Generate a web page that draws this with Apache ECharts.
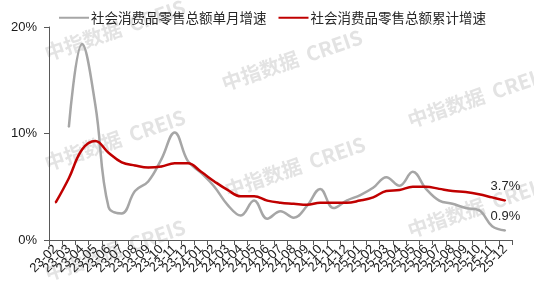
<!DOCTYPE html>
<html>
<head>
<meta charset="utf-8">
<script src="https://cdn.jsdelivr.net/npm/echarts@6/dist/echarts.min.js"></script>
<style>
html,body{margin:0;padding:0;background:#fff;}
#chart{width:534px;height:290px;}
</style>
</head>
<body>
<div id="chart"></div>
<script>
var categories = ['23-02','23-03','23-04','23-05','23-06','23-07','23-08','23-09','23-10','23-11','23-12',
  '24-01','24-02','24-03','24-04','24-05','24-06','24-07','24-08','24-09','24-10','24-11','24-12',
  '25-01','25-02','25-03','25-04','25-05','25-06','25-07','25-08','25-09','25-10','25-11','25-12'];
var monthlyName = '社会消费品零售总额单月增速';
var cumulativeName = '社会消费品零售总额累计增速';
var monthly = [null,10.6,18.4,12.7,3.1,2.5,4.6,5.5,7.6,10.1,7.4,
  6.3,5.0,3.3,2.3,3.7,2.0,2.7,2.1,3.2,4.8,3.0,3.7,
  4.2,4.9,5.9,5.1,6.4,4.8,3.7,3.4,3.0,2.8,1.3,0.9];
var cumulative = [3.5,5.8,8.5,9.3,8.2,7.3,7.0,6.8,6.9,7.2,7.2,
  6.4,5.5,4.7,4.1,4.1,3.7,3.5,3.4,3.3,3.5,3.5,3.5,
  3.7,4.0,4.6,4.7,5.0,5.0,4.8,4.6,4.5,4.3,4.0,3.7];
var yTicks = [0,10,20];
var watermark = '中指数据  CREIS';

function withEndLabel(arr){
  return arr.map(function(v,i){
    if(i===arr.length-1){
      return {value:v,label:{show:true,position:'top',distance:7,formatter:function(p){return Number(p.value).toFixed(1)+'%';},
        fontSize:13,color:'#262626',fontFamily:'"Liberation Sans", Arial, sans-serif'}};
    }
    return v;
  });
}

var wmPos = [[115,30],[115,140],[115,250],[292,60],[295,167],[478,97],[478,207]];
var graphics = wmPos.map(function(p){
  return {type:'text',x:p[0],y:p[1],rotation:0.33,z:-10,silent:true,
    style:{text:watermark,fill:'#e3e3e3',font:'bold 20px "Noto Sans CJK SC", "Liberation Sans", sans-serif',
      align:'center',verticalAlign:'middle'}};
});

var chart = echarts.init(document.getElementById('chart'),null,{renderer:'canvas'});
chart.setOption({
  animation:false,
  backgroundColor:'#fff',
  textStyle:{fontFamily:'"Liberation Sans", Arial, "Noto Sans CJK SC", sans-serif'},
  graphic:graphics,
  legend:{
    top:6,left:54,itemWidth:30,itemHeight:2,itemGap:12,icon:'rect',
    textStyle:{fontSize:13.5,color:'#262626',fontFamily:'"Noto Sans CJK SC", sans-serif',padding:[0,0,0,-3]},
    data:[monthlyName,cumulativeName]
  },
  grid:{left:49,right:22,top:27,bottom:50,containLabel:false},
  xAxis:{
    type:'category',data:categories,boundaryGap:true,
    axisLine:{lineStyle:{color:'#595959',width:1}},
    axisTick:{show:true,interval:0,length:5,lineStyle:{color:'#595959'}},
    axisLabel:{interval:0,rotate:45,fontSize:13,color:'#1a1a1a',margin:7}
  },
  yAxis:{
    type:'value',min:yTicks[0],max:yTicks[yTicks.length-1],interval:10,
    axisLine:{show:true,lineStyle:{color:'#595959',width:1}},
    axisTick:{show:true,length:5,lineStyle:{color:'#595959'}},
    splitLine:{show:false},
    axisLabel:{formatter:'{value}%',fontSize:13,color:'#1a1a1a',margin:12}
  },
  series:[
    {name:monthlyName,type:'line',data:withEndLabel(monthly),smooth:0.4,symbol:'circle',symbolSize:1.5,showSymbol:true,
      connectNulls:false,lineStyle:{color:'#a6a6a6',width:2.5},itemStyle:{color:'#a6a6a6',borderWidth:0},z:2},
    {name:cumulativeName,type:'line',data:withEndLabel(cumulative),smooth:0.4,symbol:'circle',symbolSize:1.5,showSymbol:true,
      lineStyle:{color:'#c00000',width:2.5},itemStyle:{color:'#c00000',borderWidth:0},z:3}
  ]
});
</script>
</body>
</html>
